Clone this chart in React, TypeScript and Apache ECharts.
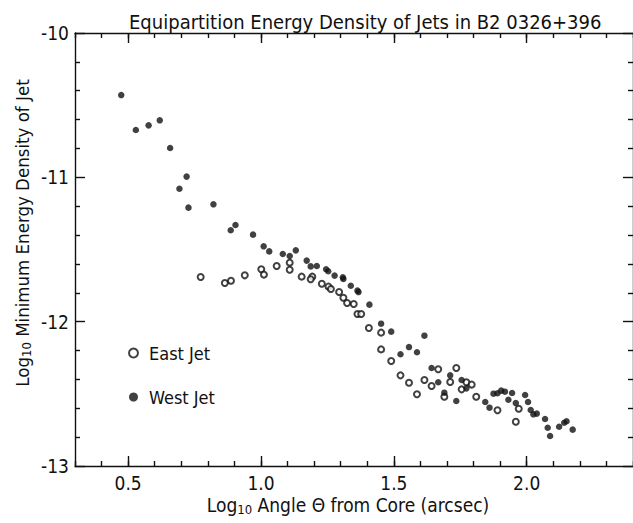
import React, { useEffect, useRef } from "react";
import * as echarts from "echarts";

const TITLE = "Equipartition Energy Density of Jets in B2 0326+396";
const X_MAJOR = [0.5, 1.0, 1.5, 2.0];
const X_MINOR = [0.3, 0.4, 0.5, 0.6, 0.7, 0.8, 0.9, 1.0, 1.1, 1.2, 1.3, 1.4, 1.5, 1.6, 1.7, 1.8, 1.9, 2.0, 2.1, 2.2, 2.3, 2.4];
const Y_LABELS = [-13, -12, -11, -10];

const westJet: [number, number][] = [
  [0.474, -10.43], [0.529, -10.672], [0.577, -10.64], [0.619, -10.605], [0.658, -10.797],
  [0.72, -10.995], [0.693, -11.079], [0.727, -11.21], [0.821, -11.187], [0.904, -11.33],
  [0.886, -11.367], [0.97, -11.397], [1.01, -11.478], [1.031, -11.513], [1.082, -11.531],
  [1.108, -11.545], [1.131, -11.506], [1.172, -11.577], [1.187, -11.617], [1.21, -11.614],
  [1.245, -11.637], [1.253, -11.651], [1.277, -11.681], [1.308, -11.693], [1.31, -11.704],
  [1.338, -11.751], [1.363, -11.785], [1.367, -11.795], [1.408, -11.882], [1.452, -12.014],
  [1.49, -12.069], [1.615, -12.097], [1.525, -12.226], [1.557, -12.176], [1.587, -12.212],
  [1.642, -12.321], [1.712, -12.372], [1.667, -12.42], [1.755, -12.404], [1.773, -12.462],
  [1.69, -12.492], [1.735, -12.55], [1.844, -12.557], [1.86, -12.596], [1.875, -12.499],
  [1.89, -12.496], [1.904, -12.478], [1.918, -12.485], [1.945, -12.494], [1.931, -12.541],
  [1.959, -12.564], [1.994, -12.508], [2.005, -12.557], [2.015, -12.612], [2.025, -12.642],
  [2.038, -12.637], [2.069, -12.674], [2.079, -12.735], [2.088, -12.792], [2.122, -12.728],
  [2.141, -12.7], [2.15, -12.69], [2.173, -12.748],
];

const eastJet: [number, number][] = [
  [0.773, -11.69], [0.864, -11.732], [0.887, -11.716], [0.939, -11.679], [1.001, -11.637],
  [1.011, -11.674], [1.059, -11.614], [1.108, -11.591], [1.108, -11.64], [1.153, -11.688],
  [1.193, -11.688], [1.187, -11.706], [1.229, -11.737], [1.254, -11.757], [1.263, -11.774],
  [1.294, -11.794], [1.31, -11.834], [1.324, -11.871], [1.349, -11.878], [1.363, -11.947],
  [1.377, -11.947], [1.406, -12.044], [1.452, -12.076], [1.452, -12.192], [1.49, -12.273],
  [1.525, -12.372], [1.557, -12.423], [1.587, -12.503], [1.615, -12.404], [1.642, -12.446],
  [1.667, -12.33], [1.69, -12.52], [1.712, -12.418], [1.735, -12.321], [1.755, -12.469],
  [1.773, -12.42], [1.793, -12.436], [1.81, -12.52], [1.89, -12.614], [1.97, -12.603],
  [1.959, -12.693],
];

const FONT = "'Liberation Sans Narrow', 'DejaVu Sans Condensed', Roboto, sans-serif";
const INK = "#111";

export default function App() {
  const ref = useRef<HTMLDivElement>(null);
  useEffect(() => {
    if (!ref.current) return;
    const chart = echarts.init(ref.current, null, { renderer: "svg" });
    const lineStyle = { color: INK, width: 1.4 };
    const baseX = {
      type: "value" as const,
      min: 0.3,
      max: 2.4,
      splitLine: { show: false },
    };
    const baseY = {
      type: "value" as const,
      min: -13,
      max: -10,
      interval: 1,
      splitLine: { show: false },
    };
    chart.setOption({
      animation: false,
      backgroundColor: "#fff",
      title: {
        text: TITLE,
        left: 124,
        top: 7,
        textStyle: { fontFamily: FONT, fontSize: 20, fontWeight: "normal", color: INK },
      },
      grid: { left: 75, top: 33, width: 559, height: 433 },
      legend: {
        orient: "vertical",
        left: 123,
        top: 339,
        itemGap: 26,
        itemWidth: 9,
        itemHeight: 9,
        textStyle: { fontFamily: FONT, fontSize: 18, color: INK, padding: [0, 0, 0, 6] },
        data: [
          { name: "East Jet", icon: "emptyCircle" },
          { name: "West Jet", icon: "circle" },
        ],
      },
      xAxis: [
        {
          ...baseX,
          position: "bottom",
          axisLine: { show: true, onZero: false, lineStyle },
          axisTick: { show: true, inside: true, length: 10, customValues: X_MAJOR, lineStyle },
          axisLabel: {
            customValues: X_MAJOR,
            formatter: (v: number) => v.toFixed(1),
            fontFamily: FONT,
            fontSize: 19,
            color: INK,
            margin: 7,
          },
        },
        {
          ...baseX,
          position: "bottom",
          axisLine: { show: false },
          axisTick: { show: true, inside: true, length: 5, customValues: X_MINOR, lineStyle },
          axisLabel: { show: false },
        },
        {
          ...baseX,
          position: "top",
          axisLine: { show: true, onZero: false, lineStyle },
          axisTick: { show: true, inside: true, length: 10, customValues: X_MAJOR, lineStyle },
          axisLabel: { show: false },
        },
        {
          ...baseX,
          position: "top",
          axisLine: { show: false },
          axisTick: { show: true, inside: true, length: 5, customValues: X_MINOR, lineStyle },
          axisLabel: { show: false },
        },
      ],
      yAxis: [
        {
          ...baseY,
          position: "left",
          axisLine: { show: true, onZero: false, lineStyle },
          axisTick: { show: true, inside: true, length: 10, lineStyle },
          minorTick: { show: true, splitNumber: 5, length: 5, lineStyle },
          axisLabel: {
            customValues: Y_LABELS,
            formatter: (v: number) => String(v),
            fontFamily: FONT,
            fontSize: 19,
            color: INK,
            margin: 6,
          },
        },
        {
          ...baseY,
          position: "right",
          axisLine: { show: true, onZero: false, lineStyle },
          axisTick: { show: true, inside: true, length: 10, lineStyle },
          minorTick: { show: true, splitNumber: 5, length: 5, lineStyle },
          axisLabel: { show: false },
        },
      ],
      graphic: [
        {
          type: "text",
          x: 22,
          y: 233,
          rotation: Math.PI / 2,
          style: {
            text: "Log{sub|10} Minimum Energy Density of Jet",
            fontFamily: FONT,
            fontSize: 18.5,
            fill: INK,
            align: "center",
            verticalAlign: "middle",
            rich: { sub: { fontFamily: FONT, fontSize: 13, fill: INK, padding: [8, 0, 0, 0] } },
          },
        },
        {
          type: "text",
          x: 348,
          y: 505,
          style: {
            text: "Log{sub|10} Angle Θ from Core (arcsec)",
            fontFamily: FONT,
            fontSize: 19,
            fill: INK,
            align: "center",
            verticalAlign: "middle",
            rich: { sub: { fontFamily: FONT, fontSize: 13, fill: INK, padding: [8, 0, 0, 0] } },
          },
        },
      ],
      series: [
        {
          name: "East Jet",
          type: "scatter",
          xAxisIndex: 0,
          yAxisIndex: 0,
          symbol: "emptyCircle",
          symbolSize: 6,
          itemStyle: { color: INK, borderColor: INK, borderWidth: 1.3 },
          data: eastJet,
        },
        {
          name: "West Jet",
          type: "scatter",
          xAxisIndex: 0,
          yAxisIndex: 0,
          symbol: "circle",
          symbolSize: 6.5,
          itemStyle: { color: INK },
          data: westJet,
        },
      ],
    });
    return () => chart.dispose();
  }, []);
  return (
    <div
      ref={ref}
      style={{ position: "fixed", left: 0, top: 0, width: 633, height: 523, background: "#fff" }}
    />
  );
}
